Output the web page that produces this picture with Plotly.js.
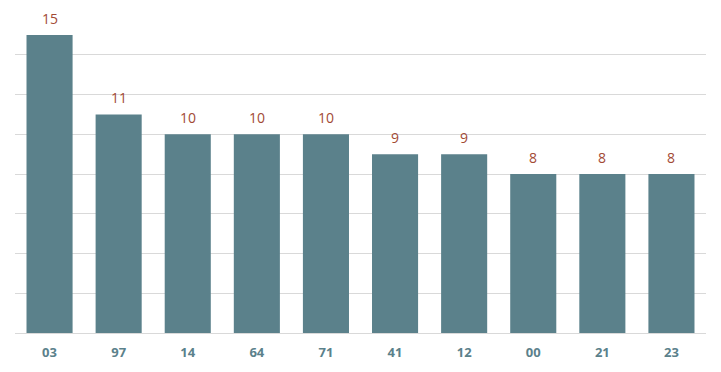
<!DOCTYPE html>
<html>
<head>
<meta charset="utf-8">
<script src="https://cdn.plot.ly/plotly-3.0.1.min.js"></script>
<style>html,body{margin:0;padding:0;background:#fff;}#chart{width:721px;height:372px;}</style>
</head>
<body>
<div id="chart"></div>
<script>
const categories = ["03", "97", "14", "64", "71", "41", "12", "00", "21", "23"];
const counts = [15, 11, 10, 10, 10, 9, 9, 8, 8, 8];

const trace = {
  type: 'bar',
  x: categories,
  y: counts,
  marker: {color: '#5b818b'},
  hoverinfo: 'none'
};

// annotation x uses the category index on the category axis
const labels = categories.map((c, i) => ({
  x: i,
  y: counts[i],
  xref: 'x',
  yref: 'y',
  text: String(counts[i]),
  showarrow: false,
  yanchor: 'bottom',
  yshift: 5,
  font: {family: 'Open Sans, sans-serif', size: 14, color: '#a24a35'}
}));

const layout = {
  width: 721,
  height: 372,
  margin: {l: 15, r: 15, t: 15, b: 39},
  paper_bgcolor: '#ffffff',
  plot_bgcolor: '#ffffff',
  bargap: 0.333,
  showlegend: false,
  annotations: labels,
  xaxis: {
    type: 'category',
    range: [-0.5, categories.length - 0.5],
    showline: true,
    linecolor: '#d9d9d9',
    linewidth: 1,
    ticks: '',
    ticklabelstandoff: 7,
    tickfont: {family: 'Open Sans, sans-serif', size: 13, color: '#5b818b', weight: 'bold'},
    showgrid: false,
    zeroline: false
  },
  yaxis: {
    range: [0, 16],
    dtick: 2,
    showticklabels: false,
    gridcolor: '#d9d9d9',
    gridwidth: 1,
    zeroline: false,
    showline: false,
    ticks: ''
  }
};

Plotly.newPlot('chart', [trace], layout, {displayModeBar: false, staticPlot: true});
</script>
</body>
</html>
